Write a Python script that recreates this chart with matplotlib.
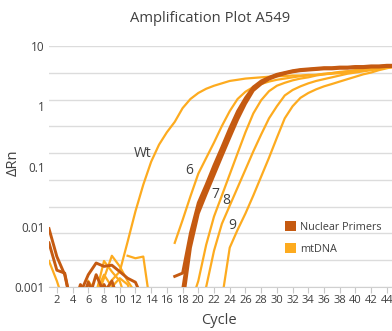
import numpy as np
import matplotlib
matplotlib.use("Agg")
import matplotlib.pyplot as plt
from matplotlib.patches import Patch
from matplotlib.ticker import FixedLocator, FixedFormatter, NullLocator

nan = float("nan")
cycles = list(range(1, 46))

# mtDNA curves (ΔRn per cycle 1..45)
mt_wt = [nan, nan, nan, nan, nan, nan, nan, nan, 0.0013, 0.0018,
         0.0056, 0.018, 0.05, 0.12, 0.23, 0.37, 0.55, 0.93, 1.32, 1.66,
         1.95, 2.19, 2.4, 2.63, 2.75, 2.88, 2.95, 3.02, 3.09, 3.16,
         3.16, 3.24, 3.24, 3.31, 3.31, 3.39, 3.47, 3.55, 3.63, 3.8,
         3.89, 4.07, 4.17, 4.37, 4.47]
mt_6 = [nan, nan, nan, nan, nan, nan, nan, nan, nan, nan,
        0.0033, 0.003, 0.0032, 0.0004, nan, nan, 0.0054, 0.0129, 0.032, 0.076,
        0.138, 0.25, 0.47, 0.83, 1.32, 1.74, 2.09, 2.34, 2.57, 2.75,
        2.88, 3.02, 3.16, 3.24, 3.31, 3.47, 3.55, 3.63, 3.8, 3.89,
        3.98, 4.17, 4.27, 4.47, 4.57]
mt_7 = [0.0027, 0.00126, 0.0005, nan, nan, 0.00126, 0.0008, 0.0027, 0.0018, 0.00126,
        0.0005, nan, nan, nan, nan, nan, nan, nan, 0.0005, 0.00126,
        0.005, 0.0148, 0.033, 0.074, 0.166, 0.37, 0.76, 1.26, 1.78, 2.19,
        2.45, 2.69, 2.88, 3.02, 3.24, 3.39, 3.55, 3.72, 3.8, 3.98,
        4.07, 4.17, 4.27, 4.47, 4.57]
mt_8 = [nan, nan, nan, nan, nan, nan, 0.00063, 0.0014, 0.0033, 0.0022,
        0.00126, 0.0008, nan, nan, nan, nan, nan, nan, nan, 0.0004,
        0.001, 0.004, 0.0112, 0.0224, 0.0447, 0.089, 0.178, 0.34, 0.63, 1.0,
        1.51, 1.86, 2.14, 2.4, 2.63, 2.82, 3.02, 3.24, 3.47, 3.63,
        3.8, 3.98, 4.17, 4.37, 4.57]
mt_9 = [nan, nan, nan, nan, 0.00063, 0.0011, 0.0008, 0.0016, 0.001, 0.0014,
        0.0011, 0.0005, nan, nan, nan, nan, nan, nan, nan, nan,
        nan, nan, 0.00063, 0.0045, 0.0089, 0.0166, 0.033, 0.068, 0.14, 0.3,
        0.63, 1.0, 1.38, 1.66, 1.91, 2.14, 2.34, 2.57, 2.82, 3.09,
        3.39, 3.63, 3.98, 4.27, 4.57]

# Nuclear primer curves
nuc_a = [0.0093, 0.0032, 0.0016, 0.0004, 0.0008, 0.0016, 0.0025, 0.0022, 0.0023, 0.0018,
         0.0014, 0.0012, 0.0006, nan, nan, nan, nan, 0.0009, 0.0063, 0.021,
         0.043, 0.087, 0.178, 0.36, 0.72, 1.26, 2.0, 2.51, 2.95, 3.31,
         3.55, 3.8, 3.98, 4.07, 4.17, 4.27, 4.27, 4.37, 4.37, 4.47,
         4.47, 4.57, 4.57, 4.68, 4.68]
nuc_b = [0.0054, 0.0019, 0.0017, 0.0004, 0.0011, 0.0006, 0.0016, 0.0008, 0.00126, 0.0005,
         nan, nan, nan, nan, nan, nan, 0.0015, 0.0017, 0.0079, 0.025,
         0.05, 0.105, 0.21, 0.43, 0.83, 1.38, 2.09, 2.63, 3.02, 3.39,
         3.63, 3.89, 4.07, 4.17, 4.27, 4.37, 4.37, 4.47, 4.47, 4.57,
         4.57, 4.68, 4.68, 4.79, 4.79]
nuc_c = [nan, nan, nan, nan, 0.0005, 0.0012, 0.0006, 0.0011, 0.0006, nan,
         nan, nan, nan, nan, nan, nan, nan, 0.0005, 0.0045, 0.0166,
         0.035, 0.072, 0.148, 0.3, 0.6, 1.1, 1.82, 2.34, 2.82, 3.16,
         3.47, 3.72, 3.89, 3.98, 4.07, 4.17, 4.17, 4.27, 4.27, 4.37,
         4.37, 4.47, 4.47, 4.57, 4.57]

mt_series = [mt_wt, mt_6, mt_7, mt_8, mt_9]
nuc_series = [nuc_a, nuc_b, nuc_c]

curve_labels = ["Wt", "6", "7", "8", "9"]
label_pos = [(12.9, 0.165), (18.9, 0.085), (22.2, 0.034), (23.6, 0.027), (24.3, 0.0105)]

y_ticks = [0.001, 0.01, 0.1, 1, 10]
y_ticklabels = ["0.001", "0.01", "0.1", "1", "10"]
x_ticks = list(range(2, 46, 2))

NUC = "#C55A11"
MT = "#FDAB1F"
TXT = "#404040"
GRID = "#DCDCDC"

plt.rcParams["font.family"] = ["Open Sans", "DejaVu Sans"]

fig = plt.figure(figsize=(3.92, 3.31), dpi=100)
ax = fig.add_axes([49 / 392, 1 - 287 / 331, 1 - 49 / 392, (287 - 46) / 331])
ax.set_yscale("log")
ax.set_ylim(0.001, 10)
ax.set_xlim(1, 44.65)

for k in range(10):
    ax.axhline(10 ** (-3 + 4 * k / 9), color=GRID, lw=1.0, zorder=0)

for s in mt_series:
    ax.plot(cycles, s, color=MT, lw=1.6, solid_joinstyle="round", zorder=2)
for s in nuc_series:
    ax.plot(cycles, s, color=NUC, lw=2.1, solid_joinstyle="round", zorder=3)

for lab, (cx, cy) in zip(curve_labels, label_pos):
    ax.text(cx, cy, lab, color=TXT, fontsize=10, ha="center", va="center")

ax.yaxis.set_major_locator(FixedLocator(y_ticks))
ax.yaxis.set_major_formatter(FixedFormatter(y_ticklabels))
ax.yaxis.set_minor_locator(NullLocator())
ax.tick_params(axis="y", length=0, pad=3, labelsize=8.5, labelcolor=TXT)
ax.set_xticks(x_ticks)
ax.set_xticklabels([str(t) for t in x_ticks])
ax.tick_params(axis="x", length=4, width=0.8, color="#C8C8C8", pad=1.5,
               labelsize=8, labelcolor=TXT)
for sp in ["top", "right", "left"]:
    ax.spines[sp].set_visible(False)
ax.spines["bottom"].set_color("#D0D0D0")

fig.text(210 / 392, 1 - 19 / 331, "Amplification Plot A549", ha="center", va="center",
         fontsize=10.6, color=TXT)
fig.text(13 / 392, 1 - 163 / 331, "ΔRn", ha="center", va="center", rotation=90,
         fontsize=10.5, color=TXT)
fig.text(219 / 392, 1 - 320 / 331, "Cycle", ha="center", va="center",
         fontsize=10.5, color=TXT)

handles = [Patch(facecolor=NUC, edgecolor="none"), Patch(facecolor=MT, edgecolor="none")]
fig.legend(handles, ["Nuclear Primers", "mtDNA"], loc="center left",
           bbox_to_anchor=(275 / 392, 1 - 238 / 331), frameon=False,
           fontsize=7.8, handlelength=1.0, handleheight=1.0, handletextpad=0.4,
           labelspacing=1.0, labelcolor=TXT)

fig.savefig("out.png", dpi=100)
